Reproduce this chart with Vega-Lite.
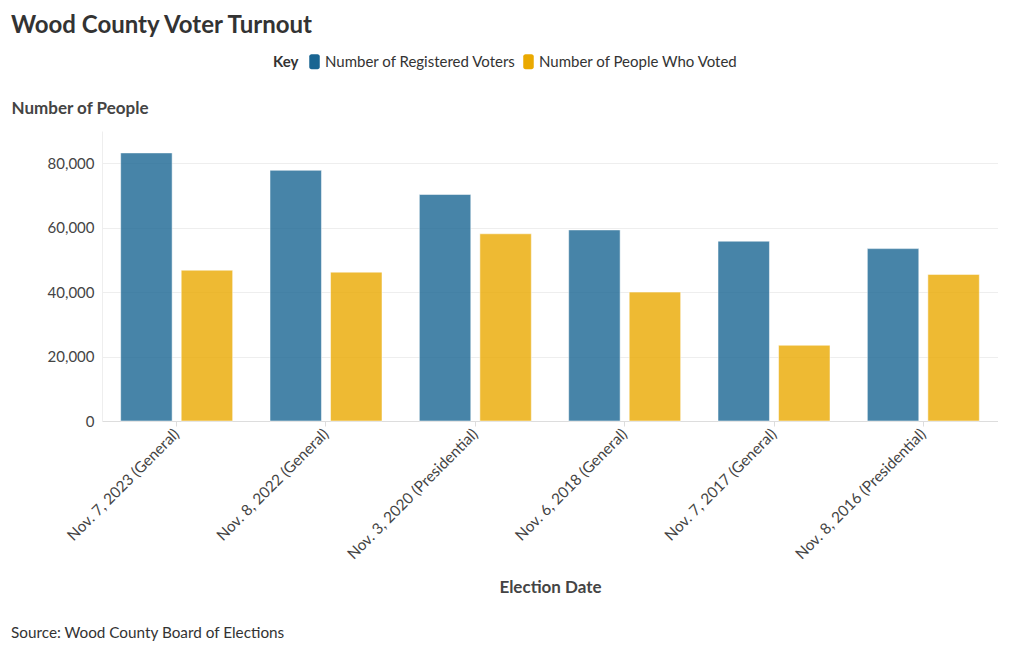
{
  "$schema": "https://vega.github.io/schema/vega-lite/v6.json",
  "background": "white",
  "padding": {"left": 11, "top": 14, "right": 0, "bottom": 0},
  "title": {"text": "Source: Wood County Board of Elections", "orient": "bottom", "anchor": "start", "frame": "bounds", "font": "Lato", "fontSize": 15.3, "fontWeight": "normal", "color": "#333333", "offset": 31},
  "datasets": {
    "turnout": [
      {"election": "Nov. 7, 2023 (General)", "series": "Number of Registered Voters", "people": 83200},
      {"election": "Nov. 7, 2023 (General)", "series": "Number of People Who Voted", "people": 46800},
      {"election": "Nov. 8, 2022 (General)", "series": "Number of Registered Voters", "people": 77800},
      {"election": "Nov. 8, 2022 (General)", "series": "Number of People Who Voted", "people": 46200},
      {"election": "Nov. 3, 2020 (Presidential)", "series": "Number of Registered Voters", "people": 70300},
      {"election": "Nov. 3, 2020 (Presidential)", "series": "Number of People Who Voted", "people": 58100},
      {"election": "Nov. 6, 2018 (General)", "series": "Number of Registered Voters", "people": 59300},
      {"election": "Nov. 6, 2018 (General)", "series": "Number of People Who Voted", "people": 40000},
      {"election": "Nov. 7, 2017 (General)", "series": "Number of Registered Voters", "people": 55800},
      {"election": "Nov. 7, 2017 (General)", "series": "Number of People Who Voted", "people": 23500},
      {"election": "Nov. 8, 2016 (Presidential)", "series": "Number of Registered Voters", "people": 53500},
      {"election": "Nov. 8, 2016 (Presidential)", "series": "Number of People Who Voted", "people": 45500}
    ]
  },
  "vconcat": [
    {
      "title": {"text": "Wood County Voter Turnout", "anchor": "start", "frame": "group", "dx": -91, "font": "Lato", "fontSize": 24, "fontWeight": "bold", "color": "#333333", "offset": 61},
      "width": 896,
      "height": 290,
      "data": {"name": "turnout"},
      "mark": {"type": "bar", "fillOpacity": 0.8, "stroke": "#ffffff", "strokeWidth": 1, "strokeOpacity": 0.5},
      "encoding": {
        "x": {
          "field": "election", "type": "nominal", "sort": null,
          "scale": {"paddingInner": 0.25, "paddingOuter": 0.125},
          "axis": {
            "title": "Election Date", "titleFont": "Lato", "titleFontSize": 17, "titleFontWeight": "bold", "titleColor": "#444444",
            "titleY": 166, "titleBaseline": "middle",
            "labelAngle": -45, "labelAlign": "right", "labelBaseline": "middle", "labelFont": "Lato", "labelFontSize": 15.3, "labelColor": "#444444", "labelPadding": 5,
            "tickColor": "#dddddd", "tickSize": 5, "domainColor": "#dddddd"
          }
        },
        "xOffset": {"field": "series", "type": "nominal", "sort": ["Number of Registered Voters", "Number of People Who Voted"], "scale": {"paddingInner": 0.15}},
        "y": {
          "field": "people", "type": "quantitative",
          "scale": {"domain": [0, 90000], "nice": false},
          "axis": {
            "title": "Number of People", "titleFont": "Lato", "titleFontSize": 17, "titleFontWeight": "bold", "titleColor": "#444444",
            "titleAngle": 0, "titleAlign": "left", "titleBaseline": "middle", "titleX": -91, "titleY": -23,
            "values": [0, 20000, 40000, 60000, 80000], "format": ",d",
            "labelFont": "Lato", "labelFontSize": 15, "labelColor": "#444444", "labelPadding": 8,
            "ticks": false, "domainColor": "#eeeeee", "gridColor": "#eeeeee"
          }
        },
        "color": {
          "field": "series", "type": "nominal",
          "scale": {"domain": ["Number of Registered Voters", "Number of People Who Voted"], "range": ["#196592", "#eaa900"]},
          "legend": {
            "title": "Key", "orient": "none", "direction": "horizontal", "legendX": 171, "legendY": -77,
            "titleOrient": "left", "titleFont": "Lato", "titleFontSize": 15, "titleFontWeight": "bold", "titleColor": "#333333", "titlePadding": 8,
            "labelFont": "Lato", "labelFontSize": 15, "labelColor": "#333333", "labelOffset": 3, "labelLimit": 400, "columnPadding": 5,
            "symbolType": "M-0.7,-0.7 A0.3,0.3 0 0 1 -0.4,-1 L0.4,-1 A0.3,0.3 0 0 1 0.7,-0.7 L0.7,0.7 A0.3,0.3 0 0 1 0.4,1 L-0.4,1 A0.3,0.3 0 0 1 -0.7,0.7 Z",
            "symbolSize": 225, "symbolOpacity": 1, "symbolStrokeWidth": 0
          }
        }
      }
    }
  ],
  "config": {"view": {"stroke": null}}
}
